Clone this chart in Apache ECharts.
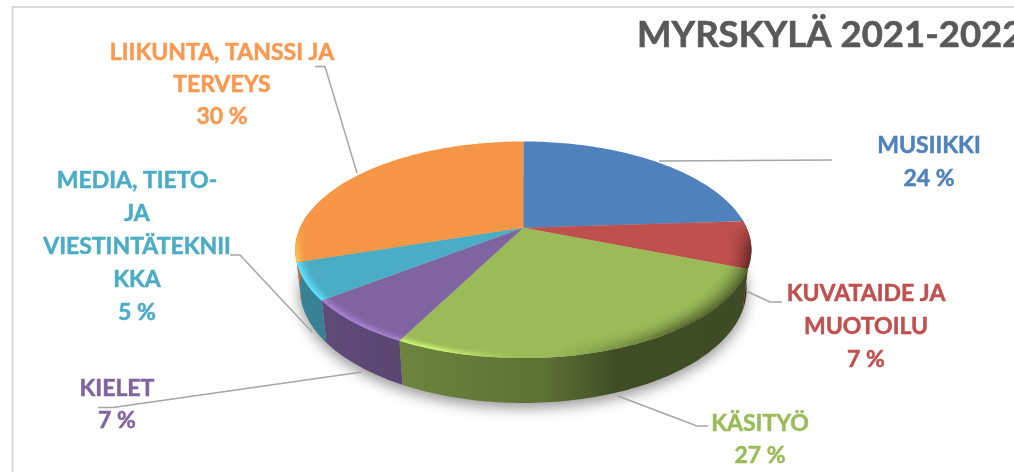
<!DOCTYPE html>
<html><head><meta charset="utf-8">
<style>html,body{margin:0;padding:0;background:#fff}#c{width:1014px;height:472px}</style>
<script src="https://cdn.jsdelivr.net/npm/echarts@6/dist/echarts.min.js"></script></head>
<body><div id="c"></div>
<script>
var titleText = 'MYRSKYLÄ 2021-2022';
var categories = ['MUSIIKKI','KUVATAIDE JA MUOTOILU','KÄSITYÖ','KIELET','MEDIA, TIETO- JA VIESTINTÄTEKNIIKKA','LIIKUNTA, TANSSI JA TERVEYS'];
var values = [24, 7, 26.5, 7, 5.45, 30.05];
var labelLines = [['MUSIIKKI'],['KUVATAIDE JA','MUOTOILU'],['KÄSITYÖ'],['KIELET'],['MEDIA, TIETO-','JA','VIESTINTÄTEKNII','KKA'],['LIIKUNTA, TANSSI JA','TERVEYS']];
var colors = ['#4f81bd','#c0504d','#9bbb59','#8064a2','#4bacc6','#f79646'];
var labelColors = ['#4f81bd','#c0504d','#9bbb59','#8064a2','#4bacc6','#f9984f'];
// layout (label centres and leader-line routes), separate from the data
var labelCentre = [[929,146,33],[866,294,33],[760,424,32],[117,389,32],[137,181,33],[222,53,32]];
var leaders = [
 [[659,161],[832,160]],
 [[746,291],[770,302],[782,302]],
 [[618,396],[697,426],[708,426]],
 [[362,372],[113,407.5],[98,407.5]],
 [[312,332],[240,255],[230,255]],
 [[357,173],[325,66.5],[315,66.5]]
];
var FONT = 'Lato';
// projection of the pie disc
var G = {xc:523.3, yc:227.7, A:223.2, B:103.8, k:0.204, D:39.2, m:0.02};
function proj(angle, r, h){
  var u = Math.sin(angle)*r, v = -Math.cos(angle)*r;
  var w = 1 - G.k*v + G.m*h;
  return [G.xc + G.A*u/w, G.yc + (G.B*v + G.D*h)/w];
}
function arcPts(a0,a1,r,h,step){
  var n = Math.max(1,Math.ceil(Math.abs(a1-a0)/(step||0.02))), p=[];
  for(var i=0;i<=n;i++) p.push(proj(a0+(a1-a0)*i/n,r,h));
  return p;
}
function shade(hex,f){
  var n=parseInt(hex.slice(1),16),r=n>>16,g=(n>>8)&255,b=n&255;
  function c(x){return Math.max(0,Math.min(255,Math.round(x*f)));}
  return 'rgb('+c(r)+','+c(g)+','+c(b)+')';
}
var total = values.reduce(function(a,b){return a+b;},0);
var sliceData = []; var acc = 0;
values.forEach(function(v,i){ sliceData.push([acc/total*Math.PI*2,(acc+v)/total*Math.PI*2,i,v]); acc+=v; });

function sideGradient(c){
  return {type:'linear',global:true,x:295,y:0,x2:752,y2:0,colorStops:[
    {offset:0,color:shade(c,.76)},{offset:.24,color:shade(c,.70)},{offset:.55,color:shade(c,.60)},
    {offset:.70,color:shade(c,.41)},{offset:1,color:shade(c,.40)}]};
}
function renderSides(params,api){
  var a0=api.value(0),a1=api.value(1),i=api.value(2);
  var lo=Math.max(a0,Math.PI*0.47),hi=Math.min(a1,Math.PI*1.55);
  if(hi<=lo) return {type:'group',children:[]};
  var top=arcPts(lo,hi,1,0),bot=arcPts(lo,hi,1,1).reverse();
  return {type:'polygon',shape:{points:top.concat(bot)},style:{fill:sideGradient(colors[i])}};
}
function ringSet(from,count,width,power,peak){
  var out=[];
  for(var i=0;i<count;i++){
    var t=(i+1)/count;
    out.push([from+i*width,from+(i+1)*width+0.001,Math.pow(t,power)*peak]);
  }
  return out;
}
var darkRings=ringSet(.90,10,.01,2,.8);
var lightRings=ringSet(.96,5,.008,1.5,.95);
function renderTops(params,api){
  var a0=api.value(0),a1=api.value(1),i=api.value(2),c=colors[i];
  var ch=[];
  var pts=[proj(0,0,0)].concat(arcPts(a0,a1,1,0));
  ch.push({type:'polygon',shape:{points:pts},style:{fill:c}});
  // soft bevel along the outer edge: dark rings to the right, thin bright rings to the left
  var step=0.04, n=Math.max(1,Math.ceil((a1-a0)/step));
  for(var s=0;s<n;s++){
    var b0=a0+(a1-a0)*s/n,b1=a0+(a1-a0)*(s+1)/n,m=(b0+b1)/2;
    var front=-Math.cos(m), sd=Math.sin(m);
    if(front<-0.02) continue;
    var rings,col,amt;
    if(sd>0){
      rings=darkRings; col=shade(c,.45);
      amt=Math.min(1,Math.max(0,(sd-.12)/.5))*Math.min(1,(front+.02)/.22);
    } else {
      rings=lightRings; col=shade(c,1.32);
      amt=Math.min(1,Math.max(0,(-sd-.02)/.3))*Math.min(1,(front+.02)/.3);
    }
    if(amt<=0.01) continue;
    rings.forEach(function(rg){
      var p=arcPts(b0,b1,rg[1],0,1).concat(arcPts(b1,b0,rg[0],0,1));
      ch.push({type:'polygon',shape:{points:p},style:{fill:col,opacity:rg[2]*amt}});
    });
  }
  return {type:'group',children:ch};
}
function renderShadow(){
  var p=arcPts(0,Math.PI*2,1,1,.05);
  return {type:'polygon',shape:{points:p},style:{fill:'#bbb',shadowBlur:14,shadowColor:'rgba(0,0,0,.42)',shadowOffsetY:5}};
}
var gfx=[
 {type:'polyline',shape:{points:[[12.5,472],[12.5,7],[1014,7]]},style:{stroke:'#d9d9d9',lineWidth:2,fill:null},silent:true}
];
leaders.forEach(function(l){
  gfx.push({type:'polyline',shape:{points:l},z:5,style:{stroke:'#a6a6a6',lineWidth:1.5,fill:null},silent:true});
});
labelLines.forEach(function(lines,i){
  var all=lines.concat([Math.round(values[i])+' %']);
  var cc=labelCentre[i];
  all.forEach(function(t,j){
    gfx.push({type:'text',z:6,style:{x:cc[0],y:cc[1]+j*cc[2],text:t,fill:labelColors[i],stroke:labelColors[i],lineWidth:0.5,font:'bold 23px '+FONT,textAlign:'center',textVerticalAlign:'middle'}});
  });
});
var chart=echarts.init(document.getElementById('c'),null,{renderer:'canvas'});
chart.setOption({
  animation:false,backgroundColor:'#fff',
  title:{text:titleText,left:637,top:17,padding:0,textStyle:{fontFamily:FONT,fontWeight:'bold',fontSize:36.5,color:'#595959',textBorderColor:'#595959',textBorderWidth:0.6}},
  xAxis:{show:false,min:0,max:1},yAxis:{show:false,min:0,max:1},
  grid:{left:0,right:0,top:0,bottom:0},
  graphic:gfx,
  series:[
   {type:'custom',name:'shadow',coordinateSystem:'none',silent:true,z:1,renderItem:renderShadow,data:[[0]]},
   {type:'custom',name:'sides',coordinateSystem:'none',silent:true,z:2,renderItem:renderSides,data:sliceData},
   {type:'custom',name:categories.join(' / '),coordinateSystem:'none',silent:true,z:3,renderItem:renderTops,data:sliceData}
  ]
});
</script></body></html>
